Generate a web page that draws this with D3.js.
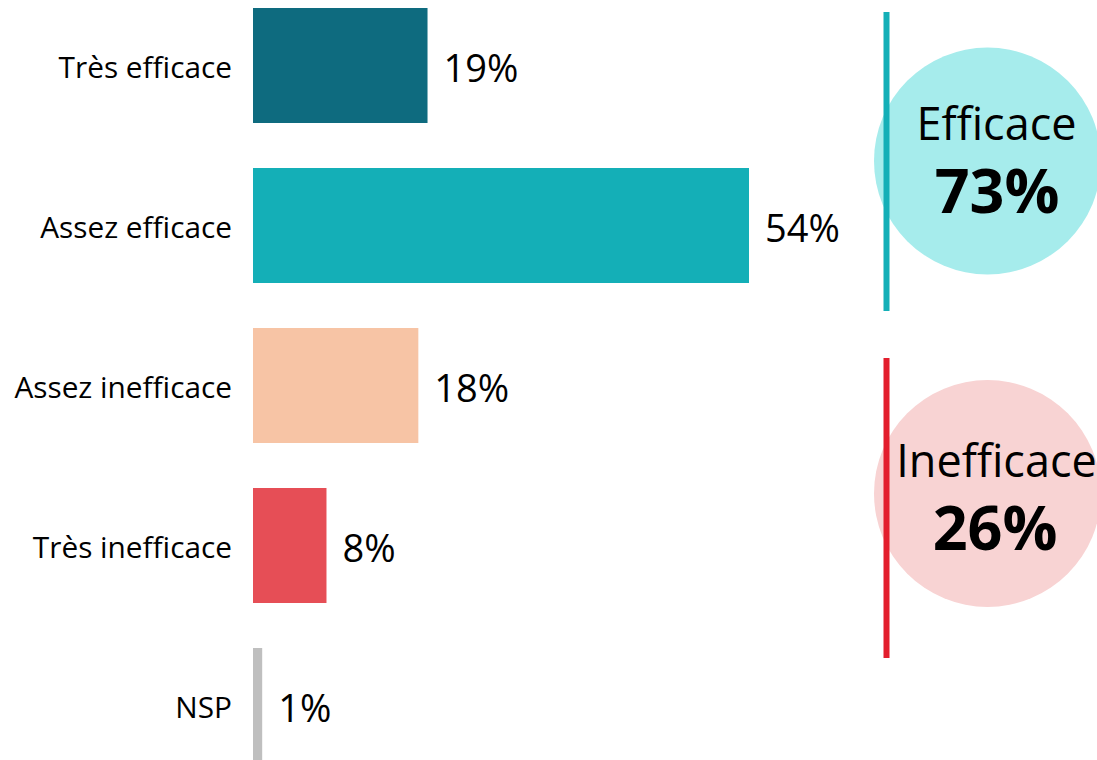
<!DOCTYPE html>
<html><head><meta charset="utf-8">
<script src="https://cdn.jsdelivr.net/npm/d3@7"></script>
<style>body{margin:0;background:#fff}svg{display:block}text{font-family:"Open Sans","Noto Sans",sans-serif}</style>
</head><body><svg id="c" width="1097" height="760"></svg>
<script>
const categories = ["Très efficace","Assez efficace","Assez inefficace","Très inefficace","NSP"];
const values = [19,54,18,8,1];
const colors = ["#0E6B7F","#14AFB7","#F7C4A5","#E64E56","#BFBFBF"];
const groupNames = ["Efficace","Inefficace"];
const groupValues = [73,26];
const groupCircle = ["#A6ECEC","#F8D3D3"];
const groupLine = ["#14AFB7","#E31E2D"];

const svg = d3.select("#c");
const x = d3.scaleLinear().domain([0,54]).range([253,749]);
const y = d3.scaleBand().domain(categories).range([8,763]).paddingInner(45/160).paddingOuter(0);

svg.selectAll("rect.bar").data(values).join("rect").attr("class","bar")
  .attr("x",x(0)).attr("y",(d,i)=>y(categories[i]))
  .attr("width",d=>x(d)-x(0)).attr("height",y.bandwidth())
  .attr("fill",(d,i)=>colors[i]);

svg.selectAll("text.cat").data(categories).join("text").attr("class","cat")
  .attr("x",232).attr("y",d=>y(d)+y.bandwidth()/2+2).attr("dy","0.35em")
  .attr("text-anchor","end").attr("font-size",29.8).attr("fill","#000").text(d=>d);

svg.selectAll("text.val").data(values).join("text").attr("class","val")
  .attr("x",d=>x(d)+16).attr("y",(d,i)=>y(categories[i])+y.bandwidth()/2+3).attr("dy","0.36em")
  .attr("font-size",38).attr("fill","#000").text(d=>d+"%");

const cys = [161,493.5];
const lineY = [[12,311],[358,658]];
groupNames.forEach((g,i)=>{
  const cyc = cys[i];
  svg.append("circle").attr("cx",987.5).attr("cy",cyc).attr("r",113.5).attr("fill",groupCircle[i]);
  svg.append("line").attr("x1",886.5).attr("x2",886.5).attr("y1",lineY[i][0]).attr("y2",lineY[i][1])
    .attr("stroke",groupLine[i]).attr("stroke-width",6);
  svg.append("text").attr("x",996.5).attr("y",i===0?cyc-21:cyc-17).attr("text-anchor","middle")
    .attr("font-size",45).attr("fill","#000").text(g);
  svg.append("text").attr("x",i===0?997:995).attr("y",i===0?cyc+52:cyc+56).attr("text-anchor","middle")
    .attr("font-size",61).attr("font-weight","bold").attr("fill","#000").text(groupValues[i]+"%");
});
</script></body></html>
